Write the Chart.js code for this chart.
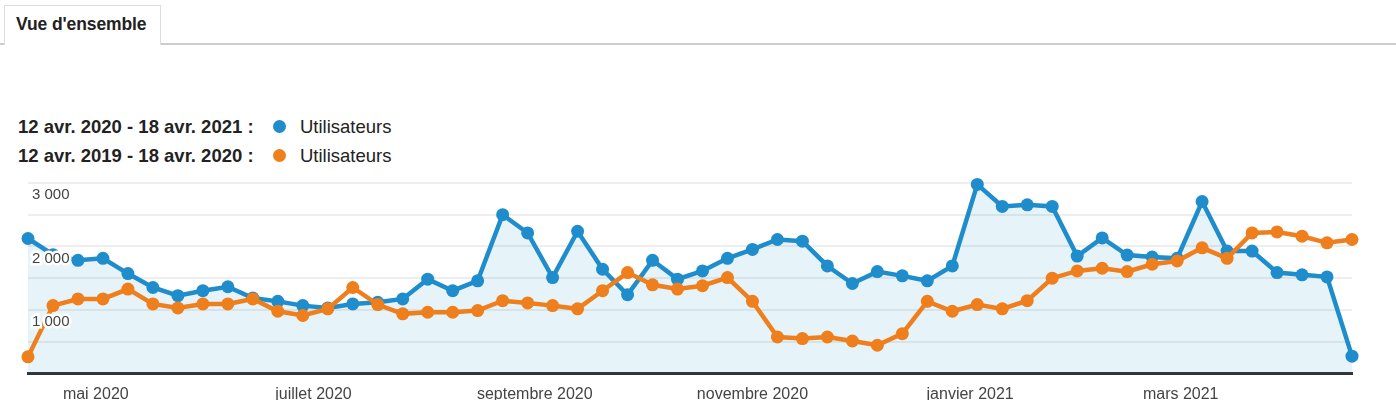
<!DOCTYPE html>
<html lang="fr">

<head>
  <meta charset="UTF-8">
  <title>Vue d'ensemble - Utilisateurs</title>
  <script src="https://cdn.jsdelivr.net/npm/chart.js"></script>
  <style>
    body { margin: 0; background: #fff; font-family: "Liberation Sans", Arial, sans-serif; }
    #page { position: relative; width: 1396px; height: 408px; overflow: hidden; }
    .tab { position: absolute; left: 4px; top: 5px; width: 155px; height: 39px; border: 1px solid #ddd; border-bottom: none; background: #fff; z-index: 2; }
    .tab span { position: absolute; left: 11px; top: 10px; font-weight: bold; font-size: 17.5px; line-height: 17.5px; color: #222; letter-spacing: -0.1px; }
    .tabline { position: absolute; left: 0; top: 43px; width: 1396px; height: 2px; background: #ccc; }
    .legend { position: absolute; left: 18px; font-size: 18.5px; line-height: 18px; color: #222; white-space: nowrap; }
    .legend b { display: inline-block; width: 255px; }
    .dot { display: inline-block; width: 13px; height: 13px; border-radius: 50%; vertical-align: 0px; margin-right: 14px; }
    #wrap { position: absolute; left: 0; top: 170px; width: 1396px; height: 230px; }
  </style>
</head>

<body>
  <div id="page">
    <div class="tabline"></div>
    <div class="tab"><span>Vue d'ensemble</span></div>
    <div class="legend" style="top:118px"><b>12 avr. 2020 - 18 avr. 2021 :</b><span class="dot" style="background:#1f8dcb"></span>Utilisateurs</div>
    <div class="legend" style="top:147px"><b>12 avr. 2019 - 18 avr. 2020 :</b><span class="dot" style="background:#ee7f1c"></span>Utilisateurs</div>
    <div id="wrap"><canvas id="chart"></canvas></div>
  </div>

  <script>
    // weekly users, first week starts 12 avr.
    const startDate = '2020-04-12';
    const currentUsers = [
      2125, 1870, 1781, 1812, 1572, 1353, 1223, 1302, 1364, 1187,
      1134, 1067, 1031, 1094, 1119, 1172, 1484, 1302, 1458, 2500,
      2213, 1509, 2239, 1640, 1239, 1781, 1484, 1614, 1812, 1953,
      2109, 2083, 1692, 1416, 1603, 1536, 1458, 1692, 2978, 2630,
      2656, 2630, 1848, 2134, 1864, 1833, 1812, 2708, 1927, 1927,
      1588, 1552, 1520, 270
    ];
    const previousUsers = [
      259, 1067, 1172, 1172, 1328, 1094, 1031, 1094, 1094, 1172,
      978, 911, 1016, 1353, 1083, 937, 962, 962, 989, 1145,
      1109, 1067, 1016, 1302, 1588, 1395, 1328, 1380, 1509, 1134,
      572, 547, 572, 509, 442, 625, 1134, 978, 1083, 1016,
      1145, 1500, 1614, 1656, 1603, 1719, 1770, 1978, 1812, 2213,
      2228, 2161, 2057, 2109
    ];
    const monthDates = ['2020-05-01', '2020-07-01', '2020-09-01', '2020-11-01', '2021-01-01', '2021-03-01'];
    const monthLabels = ['mai 2020', 'juillet 2020', 'septembre 2020', 'novembre 2020', 'janvier 2021', 'mars 2021'];
    const yLabels = [1000, 2000, 3000];

    const BLUE = '#1f8dcb';
    const ORANGE = '#ee7f1c';

    const weekOf = d => (new Date(d) - new Date(startDate)) / (7 * 24 * 3600 * 1000);
    const monthPos = monthDates.map(weekOf);
    const toPoints = arr => arr.map((v, i) => ({x: i, y: v}));

    const lineStyle = color => ({
      borderColor: color,
      backgroundColor: color,
      pointBackgroundColor: color,
      pointBorderWidth: 0,
      pointRadius: 6.5,
      pointHoverRadius: 6.5,
      borderWidth: 4.5,
      tension: 0,
      clip: false
    });

    new Chart(document.getElementById('chart'), {
      type: 'line',
      data: {
        datasets: [
          Object.assign({
            label: '12 avr. 2019 - 18 avr. 2020',
            data: toPoints(previousUsers),
            fill: false,
            order: 1
          }, lineStyle(ORANGE)),
          Object.assign({
            label: '12 avr. 2020 - 18 avr. 2021',
            data: toPoints(currentUsers),
            order: 2
          }, lineStyle(BLUE), {
            fill: 'origin',
            backgroundColor: 'rgba(5, 141, 199, 0.1)'
          })
        ]
      },
      options: {
        responsive: true,
        maintainAspectRatio: false,
        animation: false,
        layout: {padding: {left: 28, right: 44, top: 12, bottom: 0}},
        plugins: {legend: {display: false}, tooltip: {enabled: false}},
        scales: {
          x: {
            type: 'linear',
            min: 0,
            max: currentUsers.length - 1,
            afterBuildTicks: s => { s.ticks = monthPos.map(v => ({value: v})); },
            afterFit: s => { s.height = 26.7; },
            grid: {display: false},
            border: {display: true, color: '#333', width: 3},
            ticks: {
              autoSkip: false,
              maxRotation: 0,
              padding: 4,
              color: '#444',
              font: {family: '"Liberation Sans", Arial', size: 16},
              callback: (v, i) => monthLabels[i]
            }
          },
          y: {
            min: 0,
            max: 3000,
            afterFit: s => { s.width = 0; },
            border: {display: false},
            grid: {color: '#eeeeee', lineWidth: 2, drawTicks: false},
            ticks: {stepSize: 500, display: false}
          },
          // labels drawn above the lines, with a white halo
          yLabels: {
            position: 'left',
            min: 0,
            max: 3000,
            afterFit: s => { s.width = 0; },
            afterBuildTicks: s => { s.ticks = yLabels.map(v => ({value: v})); },
            border: {display: false},
            grid: {display: false},
            ticks: {
              z: 1,
              mirror: true,
              padding: 4,
              labelOffset: 12,
              color: '#444',
              textStrokeColor: '#ffffff',
              textStrokeWidth: 5,
              font: {family: '"Liberation Sans", Arial', size: 15},
              callback: v => String(v).replace(/\B(?=(\d{3})+(?!\d))/g, ' ')
            }
          }
        }
      }
    });
  </script>
</body>

</html>
